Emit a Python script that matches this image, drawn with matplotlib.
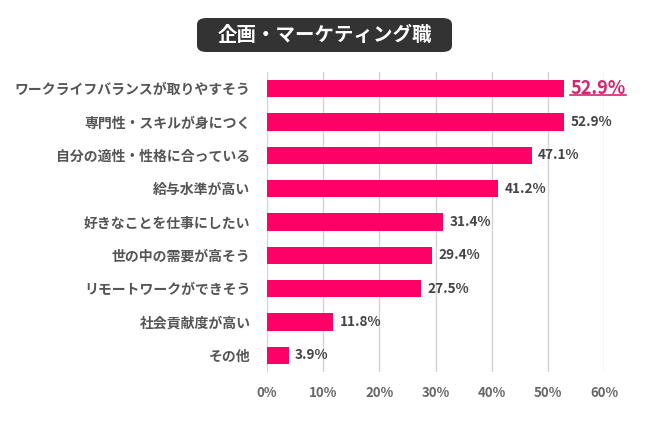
import matplotlib
matplotlib.use("Agg")
import matplotlib.pyplot as plt
from matplotlib.patches import FancyBboxPatch
from matplotlib.lines import Line2D

plt.rcParams['font.family'] = ['Noto Sans CJK JP', 'DejaVu Sans']

title = "企画・マーケティング職"
categories = ["ワークライフバランスが取りやすそう", "専門性・スキルが身につく", "自分の適性・性格に合っている",
              "給与水準が高い", "好きなことを仕事にしたい", "世の中の需要が高そう",
              "リモートワークができそう", "社会貢献度が高い", "その他"]
values = [52.9, 52.9, 47.1, 41.2, 31.4, 29.4, 27.5, 11.8, 3.9]
xticks = [0, 10, 20, 30, 40, 50, 60]
xticklabels = ["0%", "10%", "20%", "30%", "40%", "50%", "60%"]

bar_color = "#FF0066"
hl_color = "#D6246E"

fig = plt.figure(figsize=(6.5, 4.26), dpi=100)
ax = fig.add_axes([267/650, 1-372/426, (604-267)/650, 300/426])
ypos = list(range(len(categories)))
ax.barh(ypos, values, height=0.52, color=bar_color, zorder=3)
ax.set_ylim(len(categories)-0.5, -0.5)
ax.set_xlim(0, 60)
ax.set_xticks(xticks)
ax.set_xticklabels(xticklabels, fontsize=9.5, color="#666666", fontweight="bold")
ax.set_yticks(ypos)
ax.set_yticklabels(categories, fontsize=10, color="#555555", fontweight="bold")
ax.tick_params(axis='both', length=0)
ax.tick_params(axis='y', pad=12)
ax.tick_params(axis='x', pad=10)
ax.grid(axis='x', color="#d4d4d4", linewidth=1, zorder=0)
for s in ax.spines.values():
    s.set_visible(False)

texts = []
for i, v in enumerate(values):
    if i == 0:
        t = ax.text(v + 1.1, i, f"{v:.1f}%", va='center', ha='left', fontsize=13,
                    color=hl_color, fontweight='bold')
        texts.append(t)
    else:
        ax.text(v + 1.1, i, f"{v:.1f}%", va='center', ha='left', fontsize=9.8,
                color="#444444", fontweight='bold')

# title box
box = FancyBboxPatch((197/650, 1-52/426), (452-197)/650, 34/426,
                     boxstyle="round,pad=0,rounding_size=0.015",
                     transform=fig.transFigure, facecolor="#333333", edgecolor="none")
fig.patches.append(box)
fig.text(324.5/650, 1-35/426, title, ha='center', va='center', color='white',
         fontsize=14, fontweight='bold')

# underline highlight
fig.canvas.draw()
r = fig.canvas.get_renderer()
for t in texts:
    bb = t.get_window_extent(renderer=r)
    inv = fig.transFigure.inverted()
    (x0, y0), (x1, y1) = inv.transform([[bb.x0, bb.y0], [bb.x1, bb.y1]])
    fig.lines.append(Line2D([x0, x1], [y0 + 3/426, y0 + 3/426], transform=fig.transFigure,
                            color=hl_color, linewidth=1.2))

fig.savefig("out.png", dpi=100)
